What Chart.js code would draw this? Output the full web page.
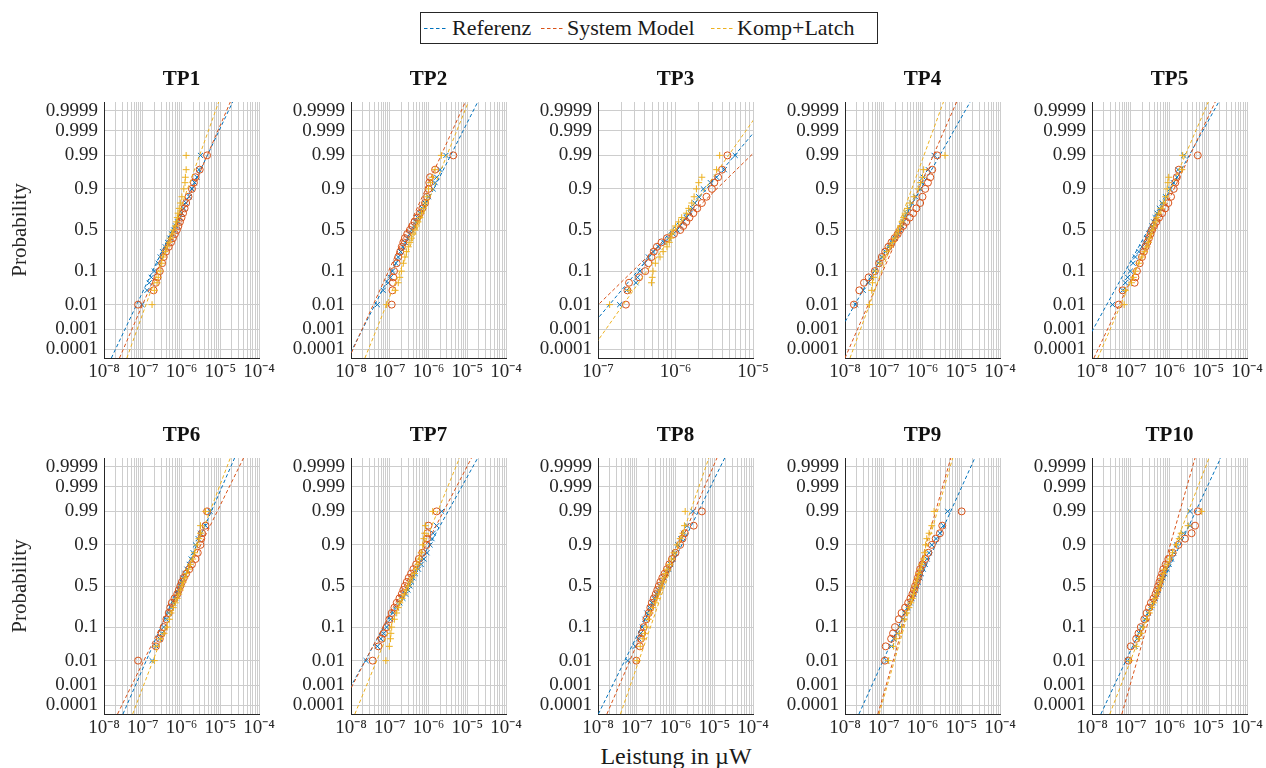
<!DOCTYPE html>
<html>
<head>
<meta charset="utf-8">
<script src="https://cdn.jsdelivr.net/npm/chart.js@4.4.0/dist/chart.umd.min.js"></script>
<style>
  body { margin: 0; background: #fff; width: 1266px; height: 768px; position: relative; overflow: hidden;
         font-family: "Liberation Serif", serif; color: #1a1a1a; }
  canvas { position: absolute; }
  #legend { position: absolute; left: 420px; top: 12px; width: 456px; height: 30px; border: 1px solid #262626; background: #fff; }
  #legend span, #legend svg { position: absolute; }
  #legend span { top: 0; font-size: 22px; line-height: 30px; white-space: nowrap; }
  #legend svg { top: 14px; }
  #xlabel { position: absolute; left: 676px; top: 743px; transform: translateX(-50%); font-size: 24px; line-height: 26px; white-space: nowrap; }
</style>
</head>
<body>
<div id="legend">
  <svg width="23" height="3" style="left:3px"><line x1="0" y1="1.5" x2="23" y2="1.5" stroke="#0072BD" stroke-width="1" stroke-dasharray="3.5 2.5"/></svg>
  <span style="left:31px">Referenz</span>
  <svg width="23" height="3" style="left:120px"><line x1="0" y1="1.5" x2="23" y2="1.5" stroke="#D95319" stroke-width="1" stroke-dasharray="3.5 2.5"/></svg>
  <span style="left:146px">System Model</span>
  <svg width="23" height="3" style="left:290px"><line x1="0" y1="1.5" x2="23" y2="1.5" stroke="#EDB120" stroke-width="1" stroke-dasharray="3.5 2.5"/></svg>
  <span style="left:316px">Komp+Latch</span>
</div>
<div id="xlabel">Leistung in µW</div>
<script>
// ---- data (power as log10 of the value, probability levels shared by all series) ----
const tpNames = ["TP1", "TP2", "TP3", "TP4", "TP5", "TP6", "TP7", "TP8", "TP9", "TP10"];
const xRangeExp = [[-8, -4], [-8, -4], [-7, -5], [-8, -4], [-8, -4], [-8, -4], [-8, -4], [-8, -4], [-8, -4], [-8, -4]];
const seriesNames = ["Referenz", "System Model", "Komp+Latch"];

const probLevels = [0.01, 0.03, 0.05, 0.07, 0.1, 0.15, 0.2, 0.25, 0.3, 0.35, 0.4, 0.45, 0.5,
                    0.55, 0.6, 0.65, 0.7, 0.75, 0.8, 0.85, 0.9, 0.93, 0.95, 0.97, 0.99];

const refExp = [
  [-7.02, -6.89, -6.83, -6.78, -6.70, -6.60, -6.55, -6.49, -6.42, -6.36, -6.30, -6.25, -6.20, -6.15, -6.10, -6.05, -5.99, -5.94, -5.88, -5.80, -5.73, -5.66, -5.60, -5.55, -5.51],
  [-7.32, -7.17, -7.04, -6.98, -6.93, -6.84, -6.78, -6.72, -6.66, -6.60, -6.54, -6.48, -6.43, -6.38, -6.33, -6.28, -6.22, -6.16, -6.09, -6.00, -5.88, -5.83, -5.79, -5.70, -5.55],
  [-6.72, -6.63, -6.51, -6.49, -6.46, -6.40, -6.35, -6.29, -6.22, -6.15, -6.09, -6.03, -5.98, -5.94, -5.90, -5.86, -5.81, -5.78, -5.75, -5.70, -5.64, -5.55, -5.47, -5.37, -5.23],
  [-7.72, -7.53, -7.40, -7.32, -7.23, -7.13, -7.05, -6.95, -6.86, -6.79, -6.71, -6.64, -6.58, -6.53, -6.49, -6.45, -6.41, -6.35, -6.28, -6.18, -6.06, -6.02, -5.98, -5.85, -5.70],
  [-7.47, -7.21, -7.14, -7.08, -7.01, -6.94, -6.88, -6.79, -6.71, -6.64, -6.58, -6.53, -6.49, -6.45, -6.41, -6.37, -6.32, -6.26, -6.19, -6.10, -5.98, -5.90, -5.81, -5.78, -5.63],
  [-6.76, -6.65, -6.56, -6.51, -6.46, -6.39, -6.33, -6.27, -6.20, -6.15, -6.11, -6.07, -6.03, -5.99, -5.96, -5.91, -5.86, -5.80, -5.75, -5.70, -5.64, -5.57, -5.51, -5.38, -5.26],
  [-7.61, -7.32, -7.23, -7.16, -7.08, -6.98, -6.91, -6.82, -6.74, -6.66, -6.59, -6.53, -6.48, -6.44, -6.40, -6.34, -6.26, -6.19, -6.12, -6.04, -5.96, -5.91, -5.88, -5.79, -5.66],
  [-7.23, -7.04, -6.95, -6.90, -6.86, -6.79, -6.74, -6.67, -6.61, -6.56, -6.50, -6.44, -6.39, -6.34, -6.29, -6.23, -6.18, -6.13, -6.07, -6.01, -5.94, -5.86, -5.79, -5.70, -5.55],
  [-6.92, -6.80, -6.74, -6.66, -6.58, -6.51, -6.45, -6.38, -6.32, -6.27, -6.23, -6.19, -6.15, -6.11, -6.07, -6.03, -5.98, -5.93, -5.88, -5.83, -5.76, -5.65, -5.55, -5.46, -5.35],
  [-7.09, -6.89, -6.83, -6.78, -6.72, -6.63, -6.55, -6.48, -6.42, -6.37, -6.33, -6.29, -6.25, -6.21, -6.17, -6.12, -6.07, -6.01, -5.95, -5.89, -5.82, -5.72, -5.64, -5.47, -5.47]
];

const sysExp = [
  [-7.12, -6.72, -6.66, -6.62, -6.56, -6.50, -6.46, -6.40, -6.33, -6.27, -6.22, -6.17, -6.12, -6.08, -6.04, -6.00, -5.96, -5.92, -5.88, -5.82, -5.73, -5.68, -5.64, -5.53, -5.34],
  [-6.95, -6.93, -6.92, -6.91, -6.89, -6.82, -6.78, -6.73, -6.69, -6.65, -6.61, -6.55, -6.48, -6.42, -6.36, -6.29, -6.22, -6.16, -6.09, -6.04, -6.00, -5.98, -5.96, -5.83, -5.36],
  [-6.64, -6.62, -6.60, -6.47, -6.39, -6.35, -6.31, -6.28, -6.24, -6.18, -6.11, -6.02, -5.94, -5.90, -5.86, -5.82, -5.77, -5.72, -5.66, -5.60, -5.53, -5.50, -5.45, -5.40, -5.33],
  [-7.77, -7.63, -7.51, -7.39, -7.23, -7.12, -7.05, -6.96, -6.88, -6.80, -6.72, -6.64, -6.58, -6.50, -6.42, -6.33, -6.24, -6.16, -6.06, -6.00, -5.93, -5.86, -5.80, -5.75, -5.62],
  [-7.31, -7.21, -6.90, -6.88, -6.84, -6.77, -6.71, -6.66, -6.62, -6.57, -6.53, -6.49, -6.45, -6.40, -6.34, -6.27, -6.19, -6.11, -6.03, -5.96, -5.89, -5.85, -5.81, -5.76, -5.27],
  [-7.12, -6.66, -6.56, -6.51, -6.46, -6.39, -6.33, -6.29, -6.25, -6.18, -6.11, -6.07, -6.03, -5.99, -5.94, -5.88, -5.80, -5.73, -5.64, -5.58, -5.51, -5.49, -5.47, -5.38, -5.34],
  [-7.44, -7.29, -7.21, -7.15, -7.08, -7.01, -6.95, -6.88, -6.82, -6.75, -6.69, -6.65, -6.61, -6.56, -6.51, -6.45, -6.39, -6.32, -6.25, -6.16, -6.05, -6.04, -6.03, -6.00, -5.79],
  [-7.01, -6.92, -6.89, -6.86, -6.82, -6.75, -6.69, -6.65, -6.61, -6.56, -6.51, -6.47, -6.43, -6.39, -6.34, -6.28, -6.22, -6.16, -6.09, -6.00, -5.88, -5.82, -5.76, -5.53, -5.32],
  [-6.97, -6.95, -6.81, -6.76, -6.71, -6.61, -6.54, -6.45, -6.37, -6.31, -6.26, -6.22, -6.19, -6.15, -6.12, -6.09, -6.06, -6.00, -5.93, -5.85, -5.76, -5.66, -5.55, -5.49, -4.99],
  [-7.06, -7.00, -6.86, -6.80, -6.74, -6.65, -6.59, -6.53, -6.48, -6.41, -6.36, -6.32, -6.29, -6.26, -6.23, -6.19, -6.16, -6.10, -6.03, -5.92, -5.77, -5.60, -5.43, -5.34, -5.27]
];

const kompExp = [
  [-6.76, -6.70, -6.63, -6.60, -6.55, -6.51, -6.48, -6.42, -6.37, -6.32, -6.28, -6.24, -6.20, -6.16, -6.13, -6.11, -6.09, -6.06, -6.03, -5.99, -5.94, -5.91, -5.90, -5.88, -5.88],
  [-7.08, -6.86, -6.78, -6.74, -6.70, -6.65, -6.61, -6.57, -6.52, -6.48, -6.44, -6.40, -6.35, -6.31, -6.27, -6.22, -6.18, -6.13, -6.08, -6.04, -6.00, -5.95, -5.90, -5.83, -5.67],
  [-6.85, -6.60, -6.31, -6.30, -6.29, -6.26, -6.20, -6.16, -6.11, -6.08, -6.06, -6.05, -6.03, -6.00, -5.96, -5.92, -5.86, -5.83, -5.79, -5.76, -5.73, -5.70, -5.66, -5.47, -5.43],
  [-7.37, -7.31, -7.29, -7.26, -7.21, -7.10, -7.01, -6.92, -6.84, -6.77, -6.71, -6.66, -6.62, -6.57, -6.53, -6.49, -6.45, -6.39, -6.32, -6.22, -6.11, -6.05, -6.00, -5.97, -5.42],
  [-7.17, -7.14, -6.98, -6.93, -6.88, -6.79, -6.71, -6.64, -6.58, -6.54, -6.51, -6.48, -6.45, -6.41, -6.37, -6.33, -6.28, -6.22, -6.16, -6.10, -6.06, -6.04, -6.02, -5.68, -5.66],
  [-6.70, -6.66, -6.55, -6.45, -6.37, -6.31, -6.27, -6.21, -6.16, -6.11, -6.07, -6.03, -5.99, -5.95, -5.91, -5.87, -5.82, -5.77, -5.71, -5.66, -5.60, -5.55, -5.51, -5.51, -5.38],
  [-7.10, -7.01, -6.98, -6.97, -6.95, -6.88, -6.82, -6.78, -6.74, -6.68, -6.62, -6.57, -6.52, -6.47, -6.42, -6.36, -6.31, -6.27, -6.23, -6.19, -6.15, -6.12, -6.10, -6.08, -5.89],
  [-6.99, -6.91, -6.84, -6.80, -6.75, -6.70, -6.65, -6.58, -6.52, -6.48, -6.44, -6.40, -6.37, -6.33, -6.30, -6.26, -6.22, -6.16, -6.10, -6.04, -5.96, -5.88, -5.81, -5.77, -5.75],
  [-6.88, -6.75, -6.68, -6.60, -6.54, -6.47, -6.41, -6.35, -6.30, -6.26, -6.23, -6.21, -6.19, -6.16, -6.13, -6.10, -6.06, -6.02, -5.98, -5.95, -5.92, -5.89, -5.83, -5.76, -5.70],
  [-7.02, -6.86, -6.79, -6.74, -6.68, -6.59, -6.52, -6.46, -6.41, -6.37, -6.33, -6.29, -6.25, -6.22, -6.19, -6.16, -6.12, -6.06, -6.00, -5.92, -5.82, -5.75, -5.70, -5.52, -5.17]
];

// fitted lognormal lines: log10 power at the lower and upper probability edge of the axis
const fitEdgeP = [0.000033, 0.999967];
const refFitExp = [[-7.81, -4.68], [-8.08, -4.73], [-7.43, -4.66], [-8.53, -4.77], [-8.38, -4.73],
                   [-7.51, -4.63], [-8.40, -4.73], [-7.99, -4.73], [-7.64, -4.65], [-7.77, -4.68]];
const sysFitExp = [[-7.60, -4.74], [-8.05, -5.05], [-7.70, -4.32], [-8.00, -5.12], [-7.95, -4.82],
                   [-7.65, -4.40], [-8.35, -4.89], [-7.77, -4.93], [-7.15, -5.27], [-7.23, -5.34]];
const kompFitExp = [[-7.41, -5.04], [-7.64, -4.97], [-7.16, -4.83], [-7.87, -5.46], [-7.85, -5.00],
                    [-7.26, -4.74], [-7.90, -5.20], [-7.42, -5.14], [-7.12, -5.22], [-7.54, -4.98]];

const yTickProbs = [0.0001, 0.001, 0.01, 0.1, 0.5, 0.9, 0.99, 0.999, 0.9999];
const yTickLabels = ["0.0001", "0.001", "0.01", "0.1", "0.5", "0.9", "0.99", "0.999", "0.9999"];

// ---- layout / style ----
const colors = ["#0072BD", "#D95319", "#EDB120"];
const colLeft = [104, 351, 598, 845, 1092];
const rowTop = [102, 458];
const plotW = 155, plotH = 256;
const axisW = 100, titleH = 40, xAxisH = 30;
const gridColor = "#cdcdcd";
const textColor = "#262626";

// inverse standard normal CDF (Acklam)
function invNorm(p) {
  const a = [-3.969683028665376e+01, 2.209460984245205e+02, -2.759285104469687e+02, 1.383577518672690e+02, -3.066479806614716e+01, 2.506628277459239e+00];
  const b = [-5.447609879822406e+01, 1.615858368580409e+02, -1.556989798598866e+02, 6.680131188771972e+01, -1.328068155288572e+01];
  const c = [-7.784894002430293e-03, -3.223964580411365e-01, -2.400758277161838e+00, -2.549732539343734e+00, 4.374664141464968e+00, 2.938163982698783e+00];
  const d = [7.784695709041462e-03, 3.224671290700398e-01, 2.445134137142996e+00, 3.754408661907416e+00];
  const pl = 0.02425;
  let q, r;
  if (p < pl) {
    q = Math.sqrt(-2 * Math.log(p));
    return (((((c[0]*q+c[1])*q+c[2])*q+c[3])*q+c[4])*q+c[5]) / ((((d[0]*q+d[1])*q+d[2])*q+d[3])*q+1);
  }
  if (p > 1 - pl) {
    q = Math.sqrt(-2 * Math.log(1 - p));
    return -(((((c[0]*q+c[1])*q+c[2])*q+c[3])*q+c[4])*q+c[5]) / ((((d[0]*q+d[1])*q+d[2])*q+d[3])*q+1);
  }
  q = p - 0.5; r = q * q;
  return (((((a[0]*r+a[1])*r+a[2])*r+a[3])*r+a[4])*r+a[5])*q / (((((b[0]*r+b[1])*r+b[2])*r+b[3])*r+b[4])*r+1);
}

// normal probability axis, values are probabilities
class ProbabilityScale extends Chart.Scale {
  static id = "probability";
  static defaults = {};
  determineDataLimits() {
    this.min = this.options.min;
    this.max = this.options.max;
  }
  buildTicks() {
    return yTickProbs.map(v => ({ value: v }));
  }
  configure() {
    super.configure();
    this._zMin = invNorm(this.min);
    this._zMax = invNorm(this.max);
  }
  getLabelForValue(v) { return String(v); }
  getPixelForValue(v) {
    return this.getPixelForDecimal((invNorm(v) - this._zMin) / (this._zMax - this._zMin));
  }
  getValueForPixel() { return 0.5; }
}
Chart.register(ProbabilityScale);

const supMap = { "-": "\u207B", "0": "\u2070", "1": "\u00B9", "2": "\u00B2", "3": "\u00B3", "4": "\u2074",
                 "5": "\u2075", "6": "\u2076", "7": "\u2077", "8": "\u2078", "9": "\u2079" };
const pow10Label = e => "10" + String(e).split("").map(ch => supMap[ch]).join("");

const toPoints = exps => exps.map((e, k) => ({ x: 10 ** e, y: probLevels[k] }));
const toFit = exps => exps.map((e, k) => ({ x: 10 ** e, y: fitEdgeP[k] }));

const markerStyles = [
  { pointStyle: "crossRot", pointRadius: 3.6 },
  { pointStyle: "circle", pointRadius: 3.5 },
  { pointStyle: "cross", pointRadius: 3.4 }
];

tpNames.forEach((name, i) => {
  const row = Math.floor(i / 5), col = i % 5;
  const cv = document.createElement("canvas");
  // symmetric canvas: left axis + plot + empty right axis, so the title centres over the plot
  const w = axisW + plotW + axisW, h = titleH + plotH + xAxisH;
  cv.width = w; cv.height = h;
  cv.style.left = (colLeft[col] - axisW) + "px";
  cv.style.top = (rowTop[row] - titleH) + "px";
  cv.style.width = w + "px"; cv.style.height = h + "px";
  document.body.appendChild(cv);

  const pointSets = [refExp[i], sysExp[i], kompExp[i]];
  const fitSets = [refFitExp[i], sysFitExp[i], kompFitExp[i]];
  const datasets = [];
  seriesNames.forEach((s, k) => {
    datasets.push({
      label: s,
      data: toPoints(pointSets[k]),
      showLine: false,
      borderColor: colors[k],
      backgroundColor: "rgba(0,0,0,0)",
      pointBorderColor: colors[k],
      pointBackgroundColor: "rgba(0,0,0,0)",
      pointBorderWidth: 1,
      pointStyle: markerStyles[k].pointStyle,
      pointRadius: markerStyles[k].pointRadius,
      order: 3 - k
    });
    datasets.push({
      label: s + " fit",
      data: toFit(fitSets[k]),
      showLine: true,
      borderColor: colors[k],
      borderWidth: 1,
      borderDash: [3.5, 2.5],
      pointRadius: 0,
      fill: false,
      order: 3 - k
    });
  });

  const xr = xRangeExp[i];
  new Chart(cv, {
    type: "scatter",
    data: { datasets },
    options: {
      responsive: false,
      animation: false,
      events: [],
      layout: { padding: 0 },
      plugins: {
        legend: { display: false },
        tooltip: { enabled: false },
        title: {
          display: true,
          text: name,
          color: "#111",
          font: { family: "Liberation Serif", size: 21, weight: "bold" },
          padding: { top: 5, bottom: titleH - 5 - 25.2 }
        }
      },
      scales: {
        x: {
          type: "logarithmic",
          min: 10 ** xr[0],
          max: 10 ** xr[1],
          afterBuildTicks: scale => {
            const t = [];
            for (let e = xr[0]; e < xr[1]; e++) {
              for (let m = 1; m <= 9; m++) t.push({ value: m * 10 ** e });
            }
            t.push({ value: 10 ** xr[1] });
            scale.ticks = t;
          },
          afterFit: scale => { scale.height = xAxisH; },
          grid: { color: gridColor, lineWidth: 1, drawTicks: false },
          border: { display: true, color: textColor, width: 1 },
          ticks: {
            autoSkip: false,
            maxRotation: 0,
            minRotation: 0,
            padding: 3,
            color: textColor,
            font: { family: "Liberation Serif", size: 19 },
            callback: v => {
              const e = Math.round(Math.log10(v));
              return Math.abs(v / 10 ** e - 1) < 1e-6 ? pow10Label(e) : "";
            }
          }
        },
        y: {
          type: "probability",
          min: fitEdgeP[0],
          max: fitEdgeP[1],
          afterFit: scale => { scale.width = axisW; },
          grid: { color: gridColor, lineWidth: 1, drawTicks: false },
          border: { display: true, color: textColor, width: 1 },
          ticks: {
            autoSkip: false,
            padding: 6,
            color: textColor,
            font: { family: "Liberation Serif", size: 19 },
            callback: (v, idx) => yTickLabels[idx]
          },
          title: {
            display: col === 0,
            text: "Probability",
            color: textColor,
            font: { family: "Liberation Serif", size: 21 },
            padding: { top: 4, bottom: 0 }
          }
        },
        yRight: {
          type: "linear",
          position: "right",
          afterFit: scale => { scale.width = axisW; },
          grid: { drawOnChartArea: false, drawTicks: false },
          border: { display: false },
          ticks: { display: false }
        }
      }
    }
  });
});
</script>
</body>
</html>
